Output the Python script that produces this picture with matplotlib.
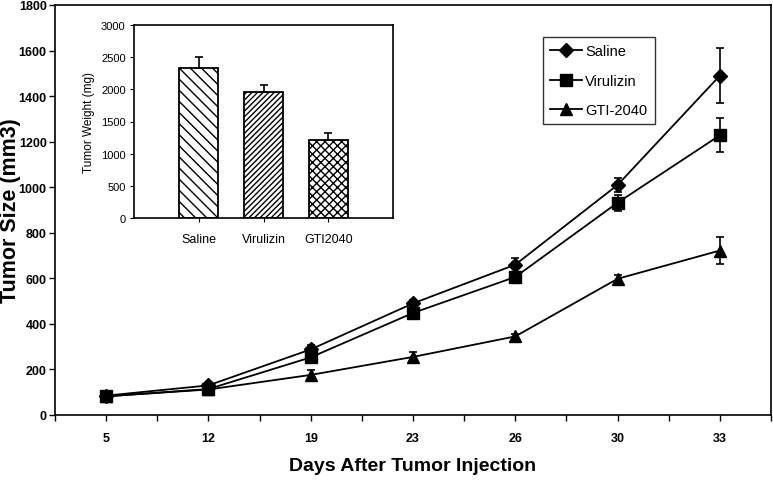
import numpy as np
import matplotlib.pyplot as plt
from matplotlib.lines import Line2D

# 数据
days = ['5', '12', '19', '23', '26', '30', '33']
saline = [85, 130, 288, 490, 660, 1010, 1490]
saline_err = [12, 10, 20, 15, 30, 30, 120]
virulizin = [82, 114, 253, 448, 606, 932, 1228]
virulizin_err = [10, 10, 25, 20, 15, 35, 75]
gti = [82, 112, 176, 255, 345, 598, 722]
gti_err = [8, 8, 20, 20, 10, 15, 60]

inset_groups = ['Saline', 'Virulizin', 'GTI2040']
inset_weight = [2335, 1960, 1210]
inset_err = [170, 110, 110]

plt.rcParams['font.family'] = ['Liberation Sans', 'DejaVu Sans']
plt.rcParams['hatch.linewidth'] = 1.0

fig = plt.figure(figsize=(7.73, 4.81), dpi=100)
ax = fig.add_axes([55/773, 65/481, 716/773, 410/481])

x = np.arange(len(days))
series = [(saline, saline_err, 'D', 7, 'Saline'),
          (virulizin, virulizin_err, 's', 8, 'Virulizin'),
          (gti, gti_err, '^', 8.5, 'GTI-2040')]
handles = []
for vals, err, mk, ms, lab in series:
    ax.errorbar(x, vals, yerr=err, color='black', marker=mk, markersize=ms,
                linewidth=1.3, capsize=3, elinewidth=1.2, capthick=1.2)
    handles.append(Line2D([], [], color='black', marker=mk, markersize=ms, linewidth=1.3, label=lab))

ax.set_xlim(-0.5, 6.5)
ax.set_ylim(0, 1800)
ax.set_yticks(np.arange(0, 1801, 200))
ax.set_xticks(x)
ax.set_xticklabels(days)
ax.set_xticks(np.arange(-0.5, 7, 1), minor=True)
ax.tick_params(axis='both', which='both', direction='out', length=4, width=1)
ax.tick_params(axis='x', which='major', pad=8)
ax.tick_params(axis='y', pad=2)
for lbl in ax.get_xticklabels() + ax.get_yticklabels():
    lbl.set_fontweight('bold')
    lbl.set_fontsize(9)
for s in ax.spines.values():
    s.set_linewidth(1.2)

ax.set_xlabel('Days After Tumor Injection', fontsize=14, fontweight='bold')
ax.xaxis.set_label_coords(0.5, -42/410)
ax.set_ylabel('Tumor Size (mm3)', fontsize=15.5, fontweight='bold')
ax.yaxis.set_label_coords(-34/716, 0.5)

leg = ax.legend(handles=handles, loc='upper left', bbox_to_anchor=(488/716, 1 - 32/410),
                borderaxespad=0, frameon=True, fancybox=False, edgecolor='black', fontsize=10.5,
                handlelength=2.2, borderpad=0.5, labelspacing=1.05, handletextpad=0.2)
leg.get_frame().set_linewidth(1.0)

# 插图：肿瘤重量
axi = fig.add_axes([134/773, (481-219)/481, 259/773, 193/481])
hatches = ['\\\\\\', '//////', 'xxxx']
bars = axi.bar([1, 2, 3], inset_weight, width=0.6, color='white', edgecolor='black', linewidth=1.3,
               yerr=[[0, 0, 0], inset_err],
               error_kw=dict(ecolor='black', capsize=3, elinewidth=1.2, capthick=1.2))
for b, h in zip(bars, hatches):
    b.set_hatch(h)
axi.set_xlim(0, 4)
axi.set_ylim(0, 3000)
axi.set_yticks(np.arange(0, 3001, 500))
axi.set_xticks([1, 2, 3])
axi.set_xticklabels(inset_groups)
axi.tick_params(axis='both', direction='out', length=3, labelsize=8, pad=3)
axi.tick_params(axis='x', pad=8, labelsize=9)
axi.set_ylabel('Tumor Weight (mg)', fontsize=8.5)
for s in axi.spines.values():
    s.set_linewidth(1.2)

plt.savefig('out.png', dpi=100)
